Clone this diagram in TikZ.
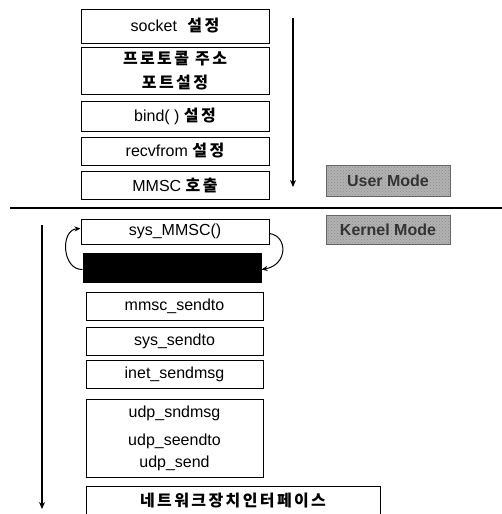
\documentclass[tikz,border=0pt]{standalone}
\usepackage{fontspec}
\setmainfont{Liberation Sans}
\newfontfamily\kr{Noto Sans CJK KR}[LetterSpace=15]
\usetikzlibrary{arrows.meta,patterns}
\begin{document}
\begin{tikzpicture}[x=1pt,y=-1pt,
  box/.style={draw,line width=1pt,inner sep=0pt,minimum width=188pt,font=\fontsize{16}{18}\selectfont},
  kbox/.style={box,minimum width=177pt},
  krt/.style={font=\kr\bfseries\fontsize{16}{18}\selectfont},
  mode/.style={draw=black!60,line width=0.8pt,preaction={fill=black!30},pattern=crosshatch dots,pattern color=black!45,
     inner sep=0pt,minimum width=124pt,
     text=black!80,font=\fontsize{16}{18}\selectfont\bfseries},
  flow/.style={line width=1.2pt,-{Stealth[length=7pt,width=6pt]}},
  loop/.style={line width=1pt,-{Stealth[length=6pt,width=5pt]}}]
\useasboundingbox (0,0) rectangle (502,514);
\fill[white] (0,0) rectangle (502,514);
% user mode boxes
\newcommand{\krs}[1]{{\kr\bfseries\fontsize{16}{18}\selectfont #1}}
\node[box,minimum height=34pt] (sock) at (175,26) {socket\hspace{6pt} \krs{설정}};
\node[box,minimum height=47pt,align=center,font=\kr\bfseries\fontsize{16}{24}\selectfont] (proto) at (175,70.5) {프로토콜 주소\\포트설정};
\node[box,minimum height=30pt] (bind) at (175,116) {bind( ) \krs{설정}};
\node[box,minimum height=28pt] (recv) at (175,151) {recvfrom \krs{설정}};
\node[box,minimum height=28pt] (mmsc) at (175,185) {MMSC \krs{호출}};
\coordinate (ua) at (293,18);
\coordinate (ub) at (293,187);
\draw[flow] (ua) -- (ub);
\node[mode,minimum height=31pt] (user) at (388,180.5) {User Mode};
% separator
\coordinate (sl) at (10,208);
\coordinate (sr) at (502,208);
\draw[line width=2pt] (sl) -- (sr);
% kernel mode
\node[mode,minimum height=29pt] (kern) at (388,229.5) {Kernel Mode};
\node[box,minimum height=25pt] (sys) at (175,231.5) {sys\_MMSC()};
\node[draw,fill=black,line width=1pt,inner sep=0pt,minimum width=178pt,minimum height=29pt] (blk) at (172,267.5) {};
\draw[loop] ([yshift=-2pt]blk.west) .. controls (62,270) and (60,230) .. ([yshift=3pt]sys.west);
\draw[loop] ([yshift=-2pt]sys.east) .. controls (288,236) and (288,265) .. ([yshift=-2pt]blk.east);
\node[kbox,minimum height=28pt] (mst) at (174.5,306) {mmsc\_sendto};
\node[kbox,minimum height=28pt] (sst) at (174.5,341) {sys\_sendto};
\node[kbox,minimum height=28pt] (inet) at (174.5,374) {inet\_sendmsg};
\node[kbox,minimum height=78pt,align=center,font=\fontsize{16}{22}\selectfont] (udp) at (174.5,438) {udp\_sndmsg\\[6pt]udp\_seendto\\udp\_send};
\node[draw,line width=1pt,inner sep=0pt,minimum width=294pt,minimum height=30pt,
  krt,text depth=0pt] (net) at (233,501) {\raisebox{2pt}{네트워크장치인터페이스}};
\coordinate (ka) at (42,225);
\coordinate (kb) at (42,509);
\draw[flow] (ka) -- (kb);
\end{tikzpicture}
\end{document}
